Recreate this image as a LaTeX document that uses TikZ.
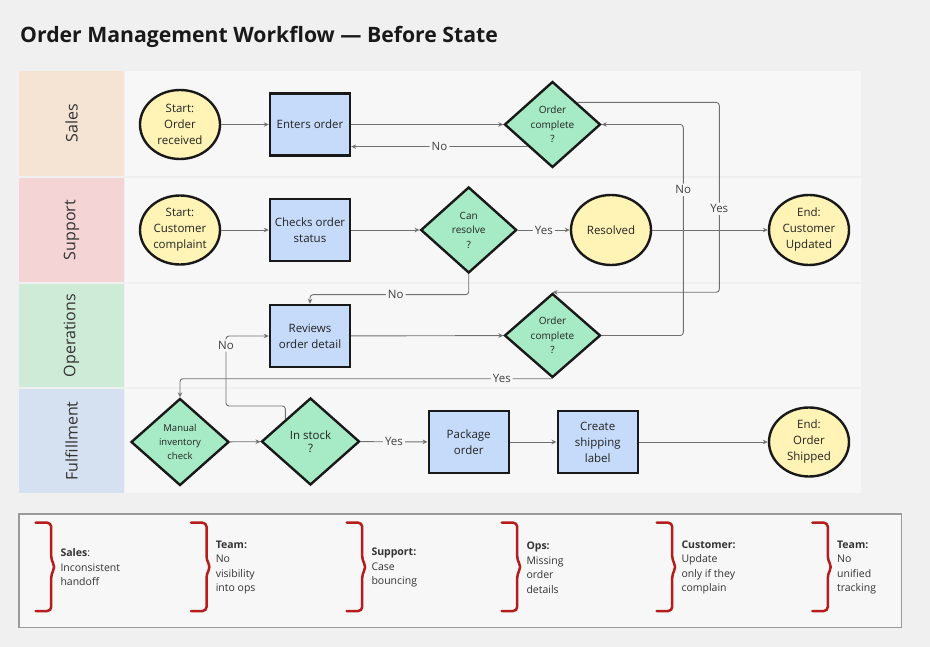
\documentclass[tikz,border=0pt]{standalone}
\usepackage{fontspec}
\setmainfont{Open Sans}
\usetikzlibrary{shapes.geometric,arrows.meta,calc}
\definecolor{pagebg}{HTML}{F0F0F0}
\definecolor{lanebg}{HTML}{F7F7F7}
\definecolor{salesc}{HTML}{F5E3D3}
\definecolor{suppc}{HTML}{F4D4D5}
\definecolor{opsc}{HTML}{CEEBD8}
\definecolor{fulc}{HTML}{D5E1F0}
\definecolor{termc}{HTML}{FFF4B5}
\definecolor{procc}{HTML}{C6DBFA}
\definecolor{decc}{HTML}{A6EBC5}
\definecolor{linec}{HTML}{707070}
\definecolor{txtc}{HTML}{222222}
\definecolor{bracec}{HTML}{B71C1C}
\definecolor{legbd}{HTML}{9A9A9A}
\begin{document}
\begin{tikzpicture}[x=1pt,y=-1pt,
 term/.style={ellipse, draw=black!90, line width=2.4pt, fill=termc, minimum width=80pt, minimum height=69pt, inner sep=0pt, align=center, font=\fontsize{11.5}{16}\selectfont, text=txtc},
 proc/.style={rectangle, draw=black!90, line width=2.4pt, fill=procc, minimum width=80pt, minimum height=62pt, inner sep=0pt, align=center, font=\fontsize{11.5}{16}\selectfont, text=txtc},
 dec/.style={diamond, draw=black!90, line width=2.4pt, fill=decc, minimum width=96pt, minimum height=86pt, inner sep=0pt, align=center, font=\fontsize{10}{14.5}\selectfont, text=txtc},
 conn/.style={draw=linec, line width=0.9pt, rounded corners=3pt, -{Stealth[length=5pt,width=4.5pt]}},
 lbl/.style={fill=lanebg, inner sep=2pt, font=\fontsize{11.5}{13}\selectfont, text=black!75},
 lanelabel/.style={rotate=90, font=\fontsize{16}{18}\selectfont, text=black!80},
 brace/.style={draw=bracec, line width=2.5pt, rounded corners=4pt, line cap=round},
 legtxt/.style={anchor=west, align=left, inner sep=0pt, font=\fontsize{10.5}{14.5}\selectfont, text=black!80}
]
\useasboundingbox[fill=pagebg] (0,0) rectangle (930,647);
% title
\node[anchor=west, inner sep=0pt, font=\fontsize{21.2}{25}\selectfont\bfseries, text=black!90] (title) at (20,36.5) {Order Management Workflow — Before State};
% lanes
\fill[salesc] (19,71) rectangle (124,176);
\fill[lanebg] (125,71) rectangle (861,176);
\fill[suppc] (19,178) rectangle (124,282);
\fill[lanebg] (125,178) rectangle (861,282);
\fill[opsc] (19,284) rectangle (124,387);
\fill[lanebg] (125,284) rectangle (861,387);
\fill[fulc] (19,389) rectangle (124,493);
\fill[lanebg] (125,389) rectangle (861,493);
\node[lanelabel] (lsales) at (71.5,123.5) {Sales};
\node[lanelabel] (lsupp) at (71.5,230) {Support};
\node[lanelabel] (lops) at (71.5,335.5) {Operations};
\node[lanelabel] (lful) at (71.5,441) {Fulfillment};
% nodes
\node[term] (s1) at (180,124.5) {Start:\\Order\\received};
\node[proc] (enter) at (310,124.5) {Enters order};
\node[dec] (oc1) at (552.5,124.5) {Order\\complete\\?};
\node[term] (s2) at (180,230) {Start:\\Customer\\complaint};
\node[proc] (cos) at (310,230) {Checks order\\status};
\node[dec] (canres) at (468.7,230) {Can\\resolve\\?};
\node[term, minimum height=70pt] (resolved) at (611,230) {Resolved};
\node[term, minimum height=70pt] (endcu) at (809,230) {End:\\Customer\\Updated};
\node[proc] (review) at (310,336) {Reviews\\order detail};
\node[dec, minimum height=84pt] (oc2) at (552.5,335.5) {Order\\complete\\?};
\node[dec, minimum width=98pt, minimum height=87pt, font=\fontsize{9.5}{14}\selectfont] (mic) at (180,442) {Manual\\inventory\\check};
\node[dec, minimum width=98pt, minimum height=87pt, font=\fontsize{11.5}{13.5}\selectfont] (instock) at (310.5,441.5) {In stock\\?};
\node[proc] (package) at (468.7,442) {Package\\order};
\node[proc] (csl) at (597.7,442) {Create\\shipping\\label};
\node[term] (endos) at (809,442) {End:\\Order\\Shipped};
% helper coordinates
\coordinate (yesx) at (719.3,0);
\coordinate (nox) at (683.3,0);
\coordinate (nox2) at (226,0);
\coordinate (noy) at (0,294.7);
\coordinate (y406) at (0,406);
\coordinate (oc1sw) at ($(oc1.west)!0.5!(oc1.south)$);
\coordinate (oc1ne) at ($(oc1.north)!0.5!(oc1.east)$);
\coordinate (isnw) at ($(instock.west)!0.5!(instock.north)$);
% connectors
\draw[conn] (s1) -- (enter);
\draw[conn] (enter) -- (oc1);
\draw[conn] (oc1sw) -- node[lbl]{No} (oc1sw -| enter.east);
\draw[conn] (oc1ne) -- (oc1ne -| yesx) -- node[lbl,pos=.56]{Yes} (yesx |- oc2.north) -- (oc2.north);
\draw[conn] (oc2.east) -- (oc2.east -| nox) -- node[lbl,pos=.69]{No} (nox |- oc1.east) -- (oc1.east);
\draw[conn] (s2) -- (cos);
\draw[conn] (cos) -- (canres);
\draw[conn] (canres) -- node[lbl]{Yes} (resolved);
\draw[conn] (resolved) -- (endcu);
\draw[conn] (canres.south) -- (canres.south |- noy) -- node[lbl,pos=.46]{No} (review.north |- noy) -- (review.north);
\draw[conn] (review) -- (oc2);
\draw[conn] (oc2.south) -- node[lbl,pos=.136]{Yes} (oc2.south -| mic.north) -- (mic.north);
\draw[conn] (mic) -- (instock);
\draw[conn] (isnw) -- (isnw |- y406) -- (nox2 |- y406) -- node[lbl,pos=.865]{No} (nox2 |- review.west) -- (review.west);
\draw[conn] (instock) -- node[lbl]{Yes} (package);
\draw[conn] (package) -- (csl);
\draw[conn] (csl) -- (endos);
% legend
\draw[draw=legbd, fill=lanebg, line width=1.1pt] (19,514) rectangle (901.5,627.5);
\foreach \bx/\txt [count=\i] in {35.7/{\textbf{Sales}:\\Inconsistent\\handoff},
  191/{\textbf{Team:}\\No\\visibility\\into ops},
  346.7/{\textbf{Support:}\\Case\\bouncing},
  501.7/{\textbf{Ops:}\\Missing\\order\\details},
  656.7/{\textbf{Customer:}\\Update\\only if they\\complain},
  812.3/{\textbf{Team:}\\No\\unified\\tracking}}{
  \draw[brace] (\bx,522.7) -- (\bx+15.5,522.7) -- (\bx+15.5,560) -- (\bx+19.5,567) -- (\bx+15.5,574) -- (\bx+15.5,611) -- (\bx,611);
  \node[legtxt] (leg\i) at (\bx+24.6,567.5) {\txt};
}
\end{tikzpicture}
\end{document}
